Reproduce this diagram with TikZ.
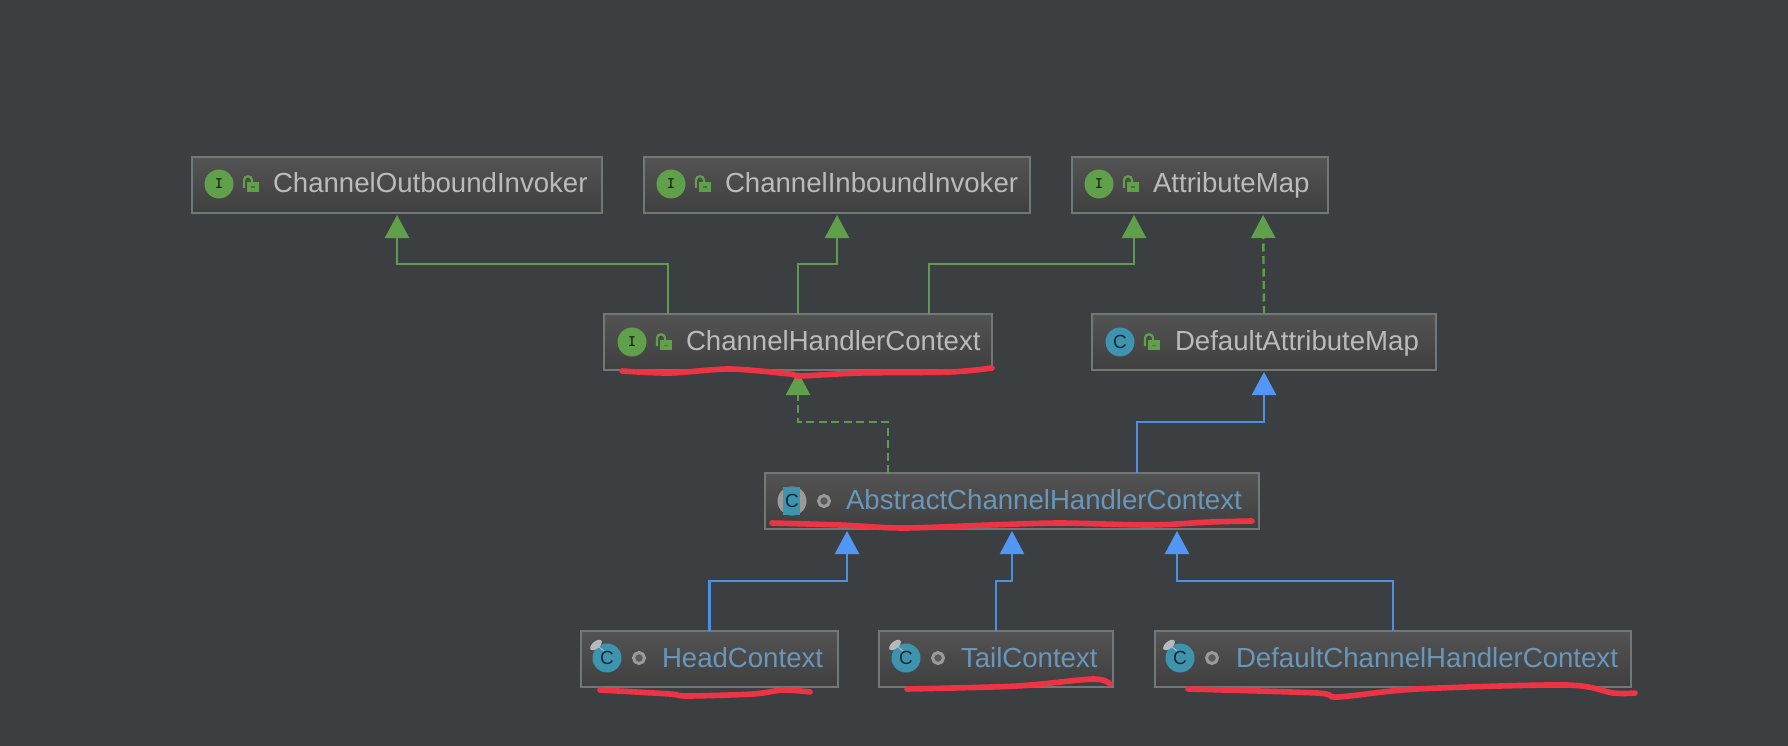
\documentclass[tikz,border=0pt]{standalone}
\usepackage{fontspec}
\setmainfont{Liberation Sans}
\usetikzlibrary{arrows.meta}
\definecolor{bgc}{HTML}{3C3F41}
\definecolor{boxtop}{HTML}{535353}
\definecolor{boxbot}{HTML}{3F3F3F}
\definecolor{boxline}{HTML}{72777A}
\definecolor{greenl}{HTML}{5F9A50}
\definecolor{greena}{HTML}{60A04A}
\definecolor{bluel}{HTML}{4F8FE0}
\definecolor{bluea}{HTML}{5297F5}
\definecolor{txtgrey}{HTML}{BBBBBB}
\definecolor{txtblue}{HTML}{6897BB}
\definecolor{teal}{HTML}{3E93AE}
\definecolor{pinc}{HTML}{B5BABC}
\definecolor{ringc}{HTML}{9A9A9A}
\definecolor{redmark}{HTML}{EE3344}
\tikzset{
  classbox/.style={draw=boxline,line width=2.6pt,top color=boxtop,bottom color=boxbot,
    minimum width=#1,minimum height=56pt,inner sep=0pt,outer sep=0pt},
  boxlabel/.style={anchor=base west,inner sep=0pt,outer sep=0pt,font=\fontsize{27.6pt}{30pt}\selectfont},
  iicon/.style={circle,fill=greena,minimum size=29pt,inner sep=0pt,text=black!80!greena,font=\fontsize{16pt}{16pt}\ttfamily\bfseries},
  cicon/.style={circle,fill=teal,minimum size=29pt,inner sep=0pt,text=black!70!teal,font=\fontsize{19pt}{19pt}\selectfont},
  ring/.style={circle,draw=ringc,line width=3pt,fill=bgc!70!ringc,minimum size=11pt,inner sep=0pt},
  greensolid/.style={draw=greenl,line width=2.4pt,-{Triangle[length=23pt,width=24pt,color=greena]},shorten >=2pt},
  greendash/.style={greensolid,dash pattern=on 8pt off 4.5pt},
  bluesolid/.style={draw=bluel,line width=2.4pt,-{Triangle[length=23pt,width=24pt,color=bluea]},shorten >=2pt},
  scribble/.style={draw=redmark,line width=5.6pt,line cap=round,line join=round},
}
% #1 name, #2 left, #3 top, #4 right, #5 text x, #6 text, #7 colour
\newcommand{\umlbox}[7]{%
  \pgfmathsetmacro{\bw}{#4-#2}\pgfmathsetmacro{\cx}{(#2+#4)/2}\pgfmathsetmacro{\cy}{#3+28}\pgfmathsetmacro{\by}{#3+36}%
  \node[classbox=\bw pt] (#1) at (\cx,\cy) {};
  \node[boxlabel,text=#7] (#1-t) at (#5,\by) {#6};
}
\newcommand{\lockicon}[2]{%
  \begin{scope}[shift={(#1,#2)}]
    \fill[greena] (-4,-2) rectangle (8,8);
    \draw[greena,line width=2.2pt] (-7,4) -- (-7,-4) .. controls (-7,-9) and (1,-9) .. (1,-4) -- (1,-1);
    \fill[bgc!50!greena] (0,2.5) rectangle (4,4);
  \end{scope}
}
\newcommand{\iface}[3]{% name, text x, y centre
  \node[iicon] (#1-i) at (#2-54,#3) {I};
  \lockicon{#2-22}{#3}
}
\newcommand{\staticclass}[3]{%
  \node[cicon] (#1-i) at (#2-56,#3) {C};
  \fill[pinc,rotate around={40:(#2-67,#3-13)}] (#2-67,#3-13) ellipse (7pt and 3.6pt);
  \draw[pinc,line width=1pt] (#2-64,#3-11) -- (#2-59,#3-7);
  \node[ring] (#1-d) at (#2-24,#3) {};
}
\begin{document}
\begin{tikzpicture}[x=1pt,y=-1pt]
\useasboundingbox[fill=bgc] (0,0) rectangle (1788,746);

\umlbox{coi}{192}{157}{602}{273}{ChannelOutboundInvoker}{txtgrey}
\umlbox{cii}{644}{157}{1030}{725}{ChannelInboundInvoker}{txtgrey}
\umlbox{am}{1072}{157}{1328}{1153}{AttributeMap}{txtgrey}
\umlbox{chc}{604}{314}{992}{686}{ChannelHandlerContext}{txtgrey}
\umlbox{dam}{1092}{314}{1436}{1175}{DefaultAttributeMap}{txtgrey}
\umlbox{achc}{765}{473}{1259}{846}{AbstractChannelHandlerContext}{txtblue}
\umlbox{head}{581}{631}{838}{662}{HeadContext}{txtblue}
\umlbox{tail}{879}{631}{1113}{961}{TailContext}{txtblue}
\umlbox{dchc}{1155}{631}{1631}{1236}{DefaultChannelHandlerContext}{txtblue}

\iface{coi}{273}{184}
\iface{cii}{725}{184}
\iface{am}{1153}{184}
\iface{chc}{686}{342}
% DefaultAttributeMap: plain class with lock
\node[cicon] (dam-i) at (1120,342) {C};
\lockicon{1152}{342}
% abstract class
\fill[ringc] (792,501) circle (14.5pt);
\fill[teal] (783,487) rectangle (800,515);
\node[inner sep=0pt,text=black!70!teal,font=\fontsize{19pt}{19pt}\selectfont] (achc-i) at (792,501) {C};
\node[ring] (achc-d) at (824,501) {};
\staticclass{head}{663}{658}
\staticclass{tail}{962}{658}
\staticclass{dchc}{1236}{658}

\draw[greensolid] ([xshift=-130pt]chc.north) -- ++(0,-50) -| (coi.south);
\draw[greensolid] (chc.north) -- ++(0,-50) -| (cii.south);
\draw[greensolid] ([xshift=131pt]chc.north) -- ++(0,-50) -| ([xshift=-66pt]am.south);
\draw[greendash] (dam.north) -- ([xshift=63pt]am.south);
\draw[greendash] ([xshift=-124pt]achc.north) -- ++(0,-51) -| (chc.south);
\draw[bluesolid] ([xshift=125pt]achc.north) -- ++(0,-51) -| (dam.south);
\draw[bluesolid] (head.north) -- ++(0,-50) -| ([xshift=-165pt]achc.south);
\draw[bluesolid] (tail.north) -- ++(0,-50) -| (achc.south);
\draw[bluesolid] (dchc.north) -- ++(0,-50) -| ([xshift=165pt]achc.south);

\draw[scribble] plot[smooth,tension=.5] coordinates {(622,371) (670,373) (730,369) (790,374) (800,376) (860,373) (950,372) (992,368)};
\draw[scribble] plot[smooth,tension=.5] coordinates {(772,523) (840,525) (903,528) (990,525) (1060,523) (1150,525) (1210,522) (1252,521)};
\draw[scribble] plot[smooth,tension=.5] coordinates {(600,690) (670,694) (687,696) (753,694) (783,690) (810,692)};
\draw[scribble] plot[smooth,tension=.5] coordinates {(907,689) (1017,686) (1093,679) (1110,684)};
\draw[scribble] plot[smooth,tension=.5] coordinates {(1188,689) (1317,693) (1338,697) (1417,689) (1567,685) (1613,693) (1635,693)};
\end{tikzpicture}
\end{document}
